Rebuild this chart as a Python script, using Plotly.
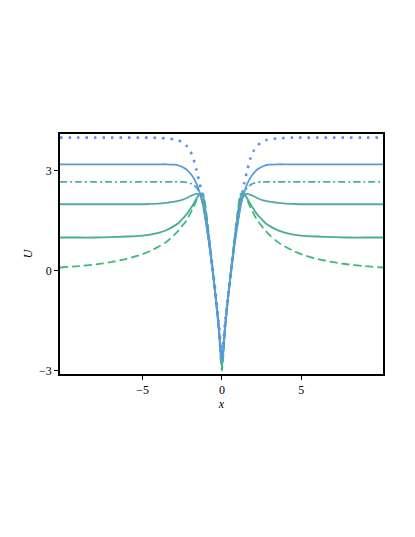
import plotly.graph_objects as go

X = [-10.2, -9, -8, -7, -6, -5, -4.5, -4, -3.5, -3, -2.75, -2.5, -2.25, -2, -1.8, -1.6, -1.4, -1.2, -1.0, -0.8, -0.6, -0.4, -0.2, -0.1,
     0,
     0.1, 0.2, 0.4, 0.6, 0.8, 1.0, 1.2, 1.4, 1.6, 1.8, 2, 2.25, 2.5, 2.75, 3, 3.5, 4, 4.5, 5, 6, 7, 8, 9, 10.15]

U_dot = [4.0, 4.0, 4.0, 4.0, 4.0, 4.0, 4.0, 3.99, 3.98, 3.95, 3.92, 3.86, 3.77, 3.6, 3.38, 3.02, 2.62, 2.12, 1.55, 0.9, 0.15, -0.65, -1.55, -2.1,
         -2.6,
         -2.1, -1.55, -0.65, 0.15, 0.9, 1.55, 2.12, 2.62, 3.02, 3.38, 3.6, 3.77, 3.86, 3.92, 3.95, 3.98, 3.99, 4.0, 4.0, 4.0, 4.0, 4.0, 4.0, 4.0]

U_blue = [3.2, 3.2, 3.2, 3.2, 3.2, 3.2, 3.2, 3.2, 3.2, 3.19, 3.17, 3.12, 3.05, 2.93, 2.8, 2.62, 2.35, 2.0, 1.45, 0.8, 0.05, -0.75, -1.65, -2.2,
          -2.7,
          -2.2, -1.65, -0.75, 0.05, 0.8, 1.45, 2.0, 2.35, 2.62, 2.8, 2.93, 3.05, 3.12, 3.17, 3.19, 3.2, 3.2, 3.2, 3.2, 3.2, 3.2, 3.2, 3.2, 3.2]

U_dashdot = [2.67, 2.67, 2.67, 2.67, 2.67, 2.67, 2.67, 2.67, 2.67, 2.67, 2.67, 2.67, 2.66, 2.63, 2.58, 2.5, 2.33, 2.0, 1.45, 0.8, 0.05, -0.76, -1.68, -2.25,
             -2.75,
             -2.25, -1.68, -0.76, 0.05, 0.8, 1.45, 2.0, 2.33, 2.5, 2.58, 2.63, 2.66, 2.67, 2.67, 2.67, 2.67, 2.67, 2.67, 2.67, 2.67, 2.67, 2.67, 2.67, 2.67]

U_teal = [2.0, 2.0, 2.0, 2.0, 2.0, 2.0, 2.01, 2.02, 2.04, 2.08, 2.1, 2.13, 2.18, 2.24, 2.28, 2.31, 2.3, 2.05, 1.5, 0.82, 0.05, -0.78, -1.7, -2.3,
          -2.8,
          -2.3, -1.7, -0.78, 0.05, 0.82, 1.5, 2.05, 2.3, 2.31, 2.28, 2.24, 2.18, 2.13, 2.1, 2.08, 2.04, 2.02, 2.01, 2.0, 2.0, 2.0, 2.0, 2.0, 2.0]

U_green = [1.0, 1.0, 1.0, 1.01, 1.03, 1.06, 1.09, 1.14, 1.22, 1.35, 1.43, 1.55, 1.68, 1.85, 2.0, 2.17, 2.3, 2.25, 1.7, 0.95, 0.12, -0.75, -1.75, -2.4,
           -2.9,
           -2.4, -1.75, -0.75, 0.12, 0.95, 1.7, 2.25, 2.3, 2.17, 2.0, 1.85, 1.68, 1.55, 1.43, 1.35, 1.22, 1.14, 1.09, 1.06, 1.03, 1.01, 1.0, 1.0, 1.0]

U_dash = [0.1, 0.14, 0.19, 0.26, 0.36, 0.5, 0.6, 0.72, 0.87, 1.08, 1.2, 1.35, 1.5, 1.72, 1.9, 2.12, 2.3, 2.32, 1.8, 1.0, 0.15, -0.75, -1.8, -2.5,
          -3.0,
          -2.5, -1.8, -0.75, 0.15, 1.0, 1.8, 2.32, 2.3, 2.12, 1.9, 1.72, 1.5, 1.35, 1.2, 1.08, 0.87, 0.72, 0.6, 0.5, 0.36, 0.26, 0.19, 0.14, 0.1]

X_TICKS = [-5, 0, 5]
X_TICKTEXT = ["\u22125", "0", "5"]
Y_TICKS = [-3, 0, 3]
Y_TICKTEXT = ["\u22123", "0", "3"]

series = [
    (U_dash, "#3cba78", "8px,4px", 1.8),
    (U_green, "#45ae95", "solid", 1.8),
    (U_teal, "#55a9ad", "solid", 1.8),
    (U_dashdot, "#4fa9b5", "7px,3px,2px,3px", 1.8),
    (U_blue, "#5b9bd5", "solid", 1.8),
    (U_dot, "#5b8ff0", "2.5px,6px", 2.6),
]

fig = go.Figure()
for ys, col, dash, w in series:
    fig.add_trace(go.Scatter(x=X, y=ys, mode="lines",
                             line=dict(color=col, width=w, dash=dash, shape="spline", smoothing=0.8),
                             showlegend=False, hoverinfo="skip"))

serif = "Liberation Serif, Times New Roman, serif"
fig.update_layout(
    width=407, height=529,
    margin=dict(l=52, r=32, t=126, b=163),
    paper_bgcolor="white", plot_bgcolor="white",
    font=dict(family=serif, size=12, color="black"),
    xaxis=dict(range=[-10.2, 10.15], tickvals=X_TICKS, ticktext=X_TICKTEXT,
               ticks="outside", ticklen=4, tickwidth=1, tickcolor="black",
               showgrid=False, zeroline=False, showline=True, mirror=True,
               linecolor="black", linewidth=1.5,
               title=dict(text="<i>x</i>", font=dict(family=serif, size=12), standoff=0)),
    yaxis=dict(range=[-3.1, 4.11], tickvals=Y_TICKS, ticktext=Y_TICKTEXT,
               ticks="outside", ticklen=4, tickwidth=1, tickcolor="black",
               showgrid=False, zeroline=False, showline=True, mirror=True,
               linecolor="black", linewidth=1.5,
               title=dict(text="<i>U</i>", font=dict(family=serif, size=12), standoff=4)),
)

fig.write_html("out.html")
